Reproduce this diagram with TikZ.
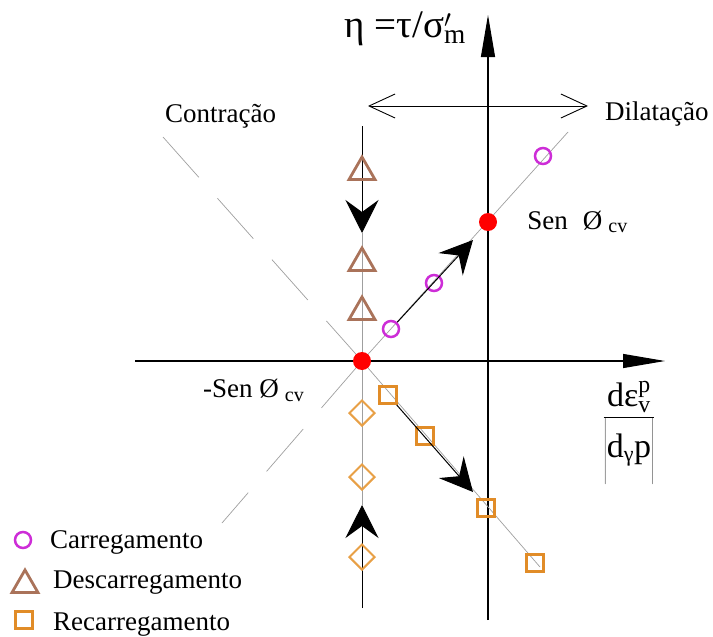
\documentclass[tikz,border=0pt]{standalone}
\usepackage{fontspec}
\setmainfont{Liberation Serif}
\usetikzlibrary{positioning,arrows.meta,shapes.geometric}
\definecolor{cmag}{RGB}{205,45,215}
\definecolor{cbrown}{RGB}{170,115,90}
\definecolor{corange}{RGB}{225,140,40}
\definecolor{cdiam}{RGB}{232,160,70}

\begin{document}
\begin{tikzpicture}[
    x=1pt, y=-1pt,
    lbl/.style={font=\fontsize{27}{30}\selectfont, inner sep=0},
    axis/.style={line width=1.1pt, -{Triangle[length=42pt, width=14pt]}},
    guide/.style={gray!75, line width=0.7pt},
    blk/.style={line width=1pt, -{Stealth[length=33pt, width=33pt, inset=12pt]}},
    carg/.style={circle, draw=cmag, line width=2.5pt, minimum size=16pt, inner sep=0},
    desc/.style={regular polygon, regular polygon sides=3, draw=cbrown, line width=2.8pt, minimum size=30pt, inner sep=0},
    recarg/.style={rectangle, draw=corange, line width=2.8pt, minimum size=17pt, inner sep=0},
    diam/.style={diamond, draw=cdiam, line width=2pt, minimum size=26pt, inner sep=0},
    pto/.style={circle, fill=red, minimum size=18pt, inner sep=0}
]
\useasboundingbox (0,0) rectangle (713,637);

% axes
\coordinate (xl) at (135,361);
\coordinate (xr) at (665,361);
\coordinate (yb) at (488,620);
\coordinate (yt) at (488,15);
\draw[axis] (xl) -- (xr);
\draw[axis] (yb) -- (yt);

% guide lines through the origin point
\coordinate (o) at (362,361);
\coordinate (a1) at (568,132);
\coordinate (a0) at (222,523);
\coordinate (b0) at (163,137);
\coordinate (b1) at (540,567);
\draw[guide] (o) -- (a1);
\draw[guide, dash pattern=on 62pt off 28pt on 56pt off 28pt] (o) -- (a0);
\draw[guide, dash pattern=on 54pt off 28pt] (b0) -- (o);
\draw[guide] (o) -- (b1);

% vertical line at contraction point
\coordinate (vt) at (362,126);
\coordinate (va) at (362,233);
\coordinate (vb) at (362,505);
\coordinate (vbot) at (362,608);
\draw[guide] (va) -- (o);
\draw[guide] (o) -- (vb);
\draw[blk] (vt) -- (va);
\draw[blk] (vbot) -- (vb);

% contraction / dilation arrow
\coordinate (dl) at (368,106);
\coordinate (dr) at (588,106);
\draw[line width=0.9pt, {Straight Barb[length=26pt, width=24pt]}-{Straight Barb[length=26pt, width=24pt]}] (dl) -- (dr);

% loading
\node[carg] (c1) at (391,329) {};
\node[carg] (c2) at (434,283) {};
\node[carg] (c3) at (543,156) {};
\coordinate (ta) at (473,240);
\draw[blk] (c1) -- (ta);

% unloading
\node[desc] (t1) at (362,172) {};
\node[desc] (t2) at (362,263) {};
\node[desc] (t3) at (362,312) {};

% reloading
\node[recarg] (s1) at (388,395) {};
\node[recarg] (s2) at (425,436) {};
\node[recarg] (s3) at (486,508) {};
\node[recarg] (s4) at (535,563) {};
\coordinate (tr) at (473,492);
\draw[blk] (s1) -- (tr);

\node[diam] (d1) at (362,413) {};
\node[diam] (d2) at (362,477) {};
\node[diam] (d3) at (362,557) {};

\node[pto] (O) at (o) {};
\node[pto] (S) at (488,222) {};

% labels
\node[lbl, anchor=base east, font=\fontsize{39}{42}\selectfont] (eta) at (466,37) {η =τ/σ$'_{\mathrm{m}}$};
\node[lbl, anchor=base west] (contr) at (165,122) {Contração};
\node[lbl, anchor=base west] (dilat) at (605,120) {Dilatação};
\node[lbl, right=30pt of S] (sen) {Sen\hspace{15pt}Ø\hspace{6pt}\raisebox{-3pt}{\fontsize{20}{20}\selectfont cv}};
\node[lbl, anchor=base west] (msen) at (203,397) {-Sen Ø\hspace{6pt}\raisebox{-4pt}{\fontsize{20}{20}\selectfont cv}};
\node[lbl, font=\fontsize{34}{36}\selectfont] (frac) at (629,433) {$\displaystyle\frac{\mathrm{d}\mbox{ε}^{\raisebox{5pt}{$\scriptstyle\mathrm{p}$}}_{\mathrm{v}}}{\left|\rule[-27pt]{0pt}{60pt}\mathrm{d}_{\mbox{\fontsize{22}{22}\selectfont γ}}\mathrm{p}\right|}$};

% legend
\node[carg] (lc) at (23,540) {};
\node[desc] (lt) at (25,585) {};
\node[recarg] (ls) at (24,620) {};
\node[lbl, anchor=base west] at (50,548) {Carregamento};
\node[lbl, anchor=base west] at (53,588) {Descarregamento};
\node[lbl, anchor=base west] at (53,630) {Recarregamento};
\end{tikzpicture}
\end{document}
